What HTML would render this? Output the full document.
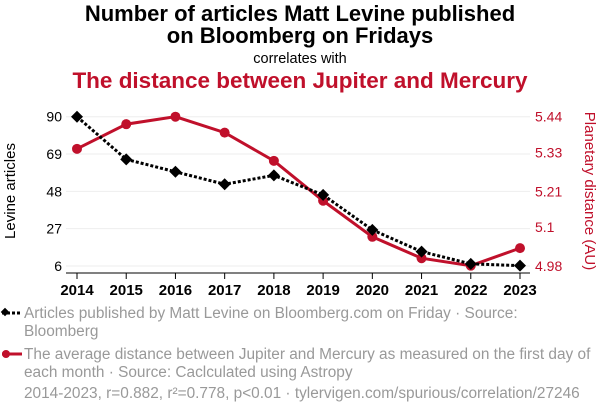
<!DOCTYPE html>
<html><head><meta charset="utf-8"><style>
body{margin:0;background:#fff;font-family:"Liberation Sans",Arial,sans-serif}
#wrap{position:relative;width:600px;height:414px;overflow:hidden}
</style></head><body>
<div id="wrap">
<svg id="chart" width="600" height="414" font-family="Liberation Sans, Arial, sans-serif">
<text x="300" y="21" text-anchor="middle" font-size="22" font-weight="bold" fill="#000">Number of articles Matt Levine published</text>
<text x="300" y="43" text-anchor="middle" font-size="22" font-weight="bold" fill="#000">on Bloomberg on Fridays</text>
<text x="300" y="63" text-anchor="middle" font-size="14.5" fill="#000">correlates with</text>
<text x="300" y="88" text-anchor="middle" font-size="22.5" font-weight="bold" fill="#c0102b">The distance between Jupiter and Mercury</text>
<g id="grid"></g><g id="axes"></g><g id="series"></g>
<text transform="translate(15,191) rotate(-90)" text-anchor="middle" font-size="15" fill="#000">Levine articles</text>
<text transform="translate(585,191) rotate(90)" text-anchor="middle" font-size="15" fill="#c0102b">Planetary distance (AU)</text>
<g>
<line x1="2" y1="313" x2="22" y2="313" stroke="#000" stroke-width="3" stroke-dasharray="3,2"/>
<rect x="2" y="309" width="6" height="6" transform="rotate(45 5 312)" fill="#000"/>
<text x="24" y="318" font-size="15.4" fill="#999">Articles published by Matt Levine on Bloomberg.com on Friday · Source:</text>
<text x="24" y="336" font-size="15.4" fill="#999">Bloomberg</text></g>
<g>
<line x1="2" y1="354" x2="22" y2="354" stroke="#c0102b" stroke-width="3"/>
<circle cx="6" cy="354" r="4" fill="#c0102b"/>
<text x="24" y="359" font-size="15.4" fill="#999">The average distance between Jupiter and Mercury as measured on the first day of</text>
<text x="24" y="377" font-size="15.4" fill="#999">each month · Source: Caclculated using Astropy</text></g>
<text x="24" y="398" font-size="15.4" fill="#999">2014-2023, r=0.882, r²=0.778, p&lt;0.01 · tylervigen.com/spurious/correlation/27246</text>
</svg>
</div>
<script>
const years=[2014,2015,2016,2017,2018,2019,2020,2021,2022,2023];
const articles=[90,66,59,52,57,46,26.3,14.1,7.2,6.2];
const distance=[5.341,5.417,5.44,5.391,5.304,5.181,5.07,5.004,4.981,5.035];
const leftTicks=[6,27,48,69,90];
const rightTicks=[4.98,5.1,5.21,5.33,5.44];
const NS="http://www.w3.org/2000/svg";
const x0=77,x1=520,yTop=116.7,yBot=266;
const xs=i=>x0+(x1-x0)*(years[i]-years[0])/(years[years.length-1]-years[0]);
const yl=v=>yBot-(v-6)/(90-6)*(yBot-yTop);
const yr=v=>yBot-(v-4.98)/(5.44-4.98)*(yBot-yTop);
function mk(tag,attrs,parent){const e=document.createElementNS(NS,tag);for(const k in attrs)e.setAttribute(k,attrs[k]);parent.appendChild(e);return e;}
const grid=document.getElementById('grid'),axes=document.getElementById('axes'),ser=document.getElementById('series');
leftTicks.forEach(t=>{
 const g=mk('line',{x1:66,x2:530,y1:yl(t),y2:yl(t),stroke:'#eee','stroke-width':1},grid);
 
 
 const tx=mk('text',{x:62,y:yl(t)+5,'text-anchor':'end','font-size':14,fill:'#000'},axes);tx.textContent=t;
 
 
});
rightTicks.forEach(t=>{
 const tx=mk('text',{x:535,y:yr(t)+5,'font-size':14,fill:'#c0102b'},axes);tx.textContent=t;
 
 
});
const ax=mk('line',{x1:66,x2:530,y1:273,y2:273,stroke:'#000','stroke-width':1},axes);


years.forEach((y,i)=>{
 mk('line',{x1:xs(i),x2:xs(i),y1:273,y2:279,stroke:'#000'},axes);
 const tx=mk('text',{x:xs(i),y:295,'text-anchor':'middle','font-size':15,'font-weight':'bold',fill:'#000'},axes);tx.textContent=y;
 
 
});
const rp=mk('polyline',{points:distance.map((v,i)=>xs(i)+','+yr(v)).join(' '),fill:'none',stroke:'#c0102b','stroke-width':3},ser);


distance.forEach((v,i)=>{const c=mk('circle',{cx:xs(i),cy:yr(v),r:5,fill:'#c0102b'},ser);
 
 });
const bp=mk('polyline',{points:articles.map((v,i)=>xs(i)+','+yl(v)).join(' '),fill:'none',stroke:'#000','stroke-width':3,'stroke-dasharray':'3,2'},ser);


articles.forEach((v,i)=>{const x=xs(i),y=yl(v);
 const d=mk('polygon',{points:`${x},${y-6} ${x+6},${y} ${x},${y+6} ${x-6},${y}`,fill:'#000'},ser);
 
 });
</script>
</body></html>
